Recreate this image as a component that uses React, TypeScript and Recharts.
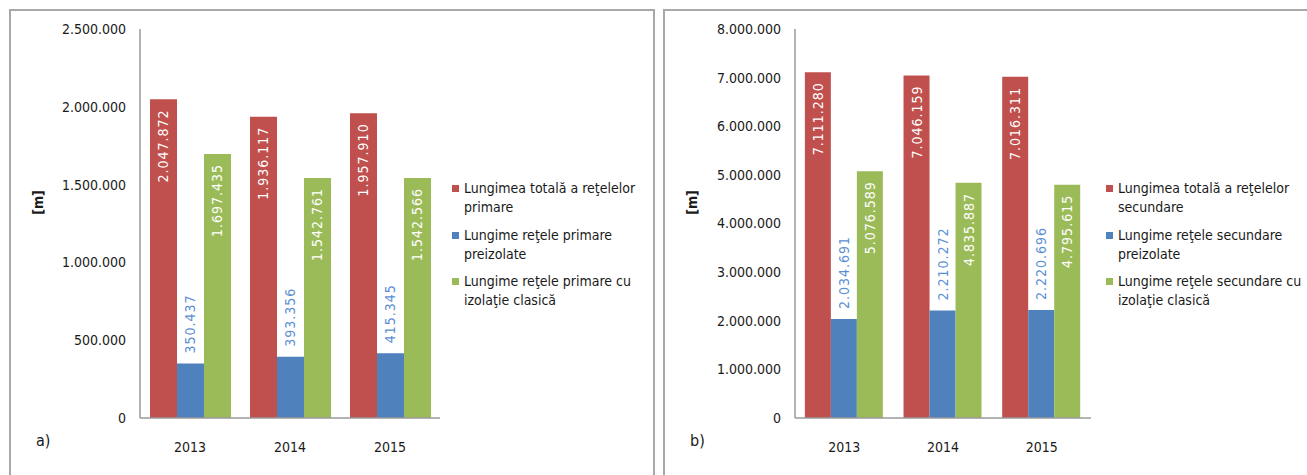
import { BarChart, Bar, XAxis, YAxis, Legend, LabelList } from 'recharts';

const years = ['2013', '2014', '2015'];

// a) retele primare
const primTotal = [2047872, 1936117, 1957910];
const primPre = [350437, 393356, 415345];
const primClasic = [1697435, 1542761, 1542566];
const primTicks = [0, 500000, 1000000, 1500000, 2000000, 2500000];
const primNames = [
  'Lungimea totală a reţelelor primare',
  'Lungime reţele primare preizolate',
  'Lungime reţele primare cu izolaţie clasică',
];

// b) retele secundare
const secTotal = [7111280, 7046159, 7016311];
const secPre = [2034691, 2210272, 2220696];
const secClasic = [5076589, 4835887, 4795615];
const secTicks = [0, 1000000, 2000000, 3000000, 4000000, 5000000, 6000000, 7000000, 8000000];
const secNames = [
  'Lungimea totală a reţelelor secundare',
  'Lungime reţele secundare preizolate',
  'Lungime reţele secundare cu izolaţie clasică',
];

const RED = '#C0504D';
const BLUE = '#4F81BD';
const GREEN = '#9BBB59';
const FONT = "'DejaVu Sans Condensed', 'DejaVu Sans', sans-serif";

const fmt = (v: number) => String(v).replace(/\B(?=(\d{3})+(?!\d))/g, '.');

const makeRows = (a: number[], b: number[], c: number[]) =>
  years.map((y, i) => ({ year: y, total: a[i], pre: b[i], clasic: c[i] }));

const barLabel = (color: string, outside: boolean) => (props: any) => {
  const x = Number(props.x);
  const y = Number(props.y);
  const w = Number(props.width);
  const cx = x + w / 2;
  const ty = outside ? y - 10 : y + 10;
  return (
    <text
      x={cx}
      y={ty}
      transform={`rotate(-90 ${cx} ${ty})`}
      textAnchor={outside ? 'start' : 'end'}
      dominantBaseline="central"
      fill={color}
      fontSize={14}
      letterSpacing={1}
      fontFamily={FONT}
    >
      {fmt(Number(props.value))}
    </text>
  );
};

const order = ['total', 'pre', 'clasic'];

const LegendBox = ({ payload }: any) => {
  const items = [...(payload || [])].sort(
    (a: any, b: any) => order.indexOf(a.dataKey) - order.indexOf(b.dataKey)
  );
  return (
    <div style={{ fontFamily: FONT, fontSize: 14, color: '#1a1a1a' }}>
      {items.map((p: any, i: number) => (
        <div key={i} style={{ display: 'flex', alignItems: 'flex-start', height: 36, marginBottom: 10.5 }}>
          <div style={{ width: 7, height: 7, background: p.color, marginTop: 6, marginRight: 5, flexShrink: 0 }} />
          <div style={{ lineHeight: '19px', width: 185 }}>{p.value}</div>
        </div>
      ))}
    </div>
  );
};

const Panel = ({ left, width, tag, rows, ticks, names, axisW, right }: any) => (
  <div
    style={{
      position: 'absolute',
      left,
      top: 9,
      width,
      height: 480,
      border: '2px solid #a8a8a8',
      boxSizing: 'border-box',
      background: '#fff',
    }}
  >
    <BarChart
      width={642}
      height={464}
      data={rows}
      margin={{ top: 18, right, bottom: 17, left: 0 }}
      barCategoryGap="10%"
      barGap={0}
    >
      <XAxis
        dataKey="year"
        axisLine={{ stroke: '#9a9a9a', strokeWidth: 1.5 }}
        tickLine={false}
        tickSize={0}
        tickMargin={24}
        height={40}
        tick={{ fill: '#1a1a1a', fontSize: 14, fontFamily: FONT }}
      />
      <YAxis
        width={axisW}
        domain={[0, ticks[ticks.length - 1]]}
        ticks={ticks}
        interval={0}
        axisLine={{ stroke: '#9a9a9a', strokeWidth: 1.5 }}
        tickLine={false}
        tickSize={0}
        tickMargin={14}
        tickFormatter={fmt}
        tick={{ fill: '#1a1a1a', fontSize: 14, fontFamily: FONT }}
        label={{
          content: (lp: any) => {
            const vb = lp.viewBox || {};
            const lx = Number(vb.x) + 27;
            const ly = Number(vb.y) + Number(vb.height) / 2 - 21;
            return (
              <text
                x={lx}
                y={ly}
                transform={`rotate(-90 ${lx} ${ly})`}
                textAnchor="middle"
                dominantBaseline="central"
                fontSize={14}
                fontWeight="bold"
                fontFamily={FONT}
                fill="#1a1a1a"
              >
                [m]
              </text>
            );
          },
        }}
      />
      <Legend
        layout="vertical"
        align="center"
        verticalAlign="middle"
        content={<LegendBox />}
        wrapperStyle={{ left: 441, top: 168, width: 200 }}
      />
      <Bar dataKey="total" name={names[0]} fill={RED} isAnimationActive={false}>
        <LabelList dataKey="total" content={barLabel('#ffffff', false)} />
      </Bar>
      <Bar dataKey="pre" name={names[1]} fill={BLUE} isAnimationActive={false}>
        <LabelList dataKey="pre" content={barLabel('#5b8fd3', true)} />
      </Bar>
      <Bar dataKey="clasic" name={names[2]} fill={GREEN} isAnimationActive={false}>
        <LabelList dataKey="clasic" content={barLabel('#ffffff', false)} />
      </Bar>
    </BarChart>
    <div
      style={{
        position: 'absolute',
        left: 25,
        top: 420,
        fontFamily: FONT,
        fontSize: 16,
        color: '#1a1a1a',
      }}
    >
      {tag}
    </div>
  </div>
);

export default function App() {
  return (
    <div style={{ position: 'absolute', left: 0, top: 0, width: 1307, height: 475, overflow: 'hidden', background: '#fff' }}>
      <Panel
        left={9}
        width={646}
        tag="a)"
        rows={makeRows(primTotal, primPre, primClasic)}
        ticks={primTicks}
        names={primNames}
        axisW={129}
        right={213}
      />
      <Panel
        left={663}
        width={660}
        tag="b)"
        rows={makeRows(secTotal, secPre, secClasic)}
        ticks={secTicks}
        names={secNames}
        axisW={130}
        right={216}
      />
    </div>
  );
}
